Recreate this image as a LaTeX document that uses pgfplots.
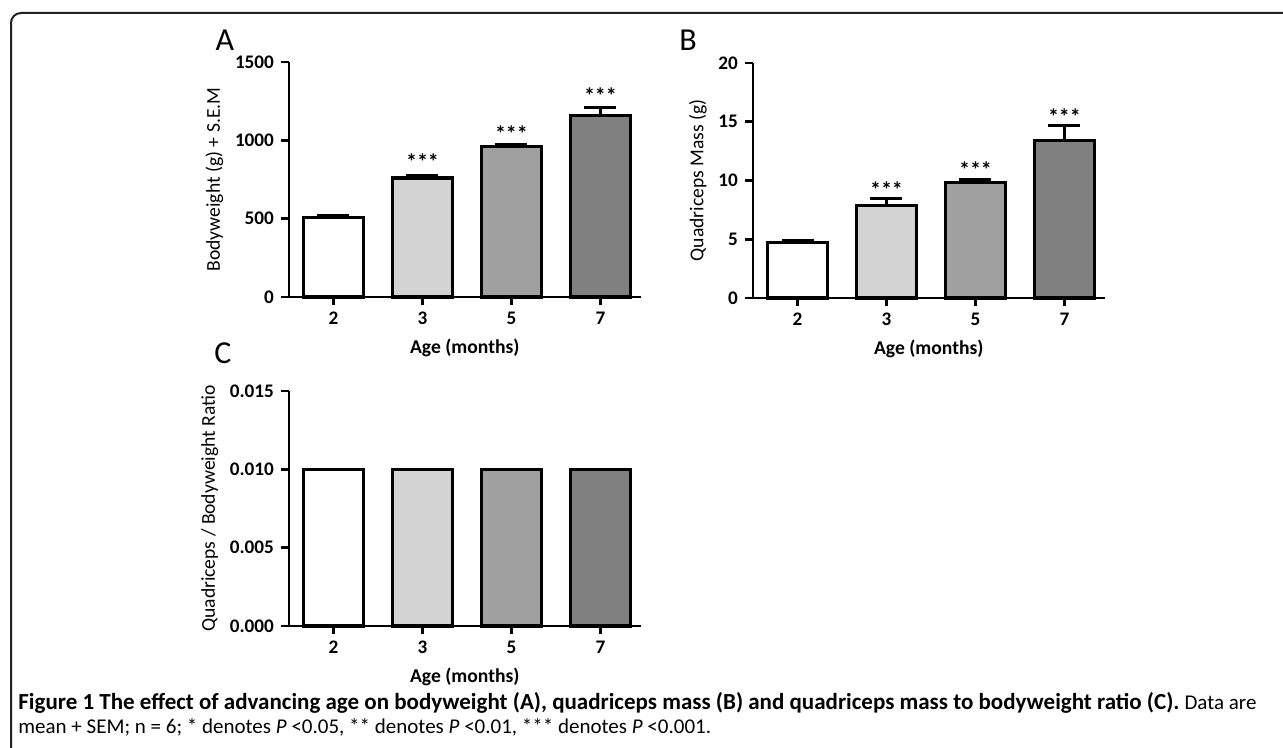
\documentclass[border=0pt]{standalone}
\usepackage{fontspec}
\setmainfont{Carlito}
\setsansfont{Carlito}
\usepackage{pgfplots}
\pgfplotsset{compat=1.18}

\definecolor{barB}{RGB}{211,211,211}
\definecolor{barC}{RGB}{160,160,160}
\definecolor{barD}{RGB}{128,128,128}
\definecolor{framec}{RGB}{35,31,32}

\newcommand{\tfont}{\fontsize{9.6}{11}\selectfont}
\newcommand{\lfont}{\fontsize{9.8}{11}\selectfont}

\pgfplotsset{
  panel/.style={
    scale only axis, width=175.75pt, height=117.5pt,
    anchor=south west,
    axis lines*=left,
    axis line style={line width=1.25pt},
    xmin=-0.5, xmax=3.45, ymin=0,
    xtick={0,1,2,3}, xticklabels={2,3,5,7},
    tick align=outside, major tick length=4pt,
    tick style={line width=1.25pt, black},
    ticklabel style={font=\tfont\bfseries},
    /pgf/number format/assume math mode=true,
    /pgf/number format/1000 sep={},
    xlabel={Age (months)},
    xlabel style={font=\lfont\bfseries},
    ylabel style={font=\lfont},
    ylabel shift=-1pt,
    ybar, bar width=30pt, bar shift=0pt,
    clip=false,
  },
  bar/.style={draw=black, line width=1.6pt, fill=#1},
  sem/.style={error bars/.cd, y dir=plus, y explicit,
    error mark options={rotate=90, mark size=8pt, line width=1.6pt},
    error bar style={line width=1.6pt}},
}
\tikzset{stars/.style={font=\fontsize{11}{12}\selectfont\bfseries, yshift=-2pt}}

\begin{document}
\begin{tikzpicture}
\path[use as bounding box] (0,0) rectangle (641.5pt,-374pt);
\draw[framec, line width=1pt, rounded corners=5pt]
  (5.5pt,-400pt) -- (5.5pt,-6.5pt) -- (680pt,-6.5pt);

% ---- A: bodyweight
\begin{axis}[panel, at={(144.5pt,-148.5pt)},
  ymax=1500, ytick={0,500,1000,1500},
  ylabel={Bodyweight (g) + S.E.M}]
  \addplot[bar=white, sem] coordinates {(0,510) +- (0,10)};
  \addplot[bar=barB, sem] coordinates {(1,760) +- (0,12)};
  \addplot[bar=barC, sem] coordinates {(2,960) +- (0,12)};
  \addplot[bar=barD, sem] coordinates {(3,1160) +- (0,50)};
  \node[stars] at (axis cs:1,887) {***};
  \node[stars] at (axis cs:2,1066) {***};
  \node[stars] at (axis cs:3,1309) {***};
  \draw[line width=1.25pt] (axis cs:-0.5,0) -- ++(-4pt,0pt);
\end{axis}

% ---- B: quadriceps mass
\begin{axis}[panel, at={(376.5pt,-149pt)},
  ymax=20, ytick={0,5,10,15,20},
  ylabel={Quadriceps Mass (g)}]
  \addplot[bar=white, sem] coordinates {(0,4.7) +- (0,0.2)};
  \addplot[bar=barB, sem] coordinates {(1,7.9) +- (0,0.6)};
  \addplot[bar=barC, sem] coordinates {(2,9.8) +- (0,0.25)};
  \addplot[bar=barD, sem] coordinates {(3,13.4) +- (0,1.3)};
  \node[stars] at (axis cs:1,9.53) {***};
  \node[stars] at (axis cs:2,11.23) {***};
  \node[stars] at (axis cs:3,15.8) {***};
  \draw[line width=1.25pt] (axis cs:-0.5,0) -- ++(-4pt,0pt);
\end{axis}

% ---- C: ratio
\begin{axis}[panel, at={(144.5pt,-313pt)},
  ymax=0.015, ytick={0,0.005,0.010,0.015},
  scaled y ticks=false,
  yticklabel style={/pgf/number format/.cd, fixed, fixed zerofill, precision=3},
  ylabel={Quadriceps / Bodyweight Ratio}]
  \addplot[bar=white] coordinates {(0,0.010)};
  \addplot[bar=barB] coordinates {(1,0.010)};
  \addplot[bar=barC] coordinates {(2,0.010)};
  \addplot[bar=barD] coordinates {(3,0.010)};
  \draw[line width=1.25pt] (axis cs:-0.5,0) -- ++(-4pt,0pt);
\end{axis}

\node[font=\fontsize{16}{17}\selectfont] at (112.5pt,-20pt) {A};
\node[font=\fontsize{16}{17}\selectfont] at (344pt,-20pt) {B};
\node[font=\fontsize{16}{17}\selectfont] at (111.5pt,-176.5pt) {C};

\node[anchor=base west, inner sep=0pt, font=\fontsize{11.5}{12}\selectfont] at (9pt,-354.5pt)
  {\textbf{Figure 1 The effect of advancing age on bodyweight (A), quadriceps mass (B) and quadriceps mass to bodyweight ratio (C).} {\fontsize{10.5}{12}\selectfont Data are}};
\node[anchor=base west, inner sep=0pt, font=\fontsize{10.5}{12}\selectfont] at (9pt,-366.5pt)
  {mean + SEM; n = 6; * denotes \textit{P} <0.05, ** denotes \textit{P} <0.01, *** denotes \textit{P} <0.001.};
\end{tikzpicture}
\end{document}
